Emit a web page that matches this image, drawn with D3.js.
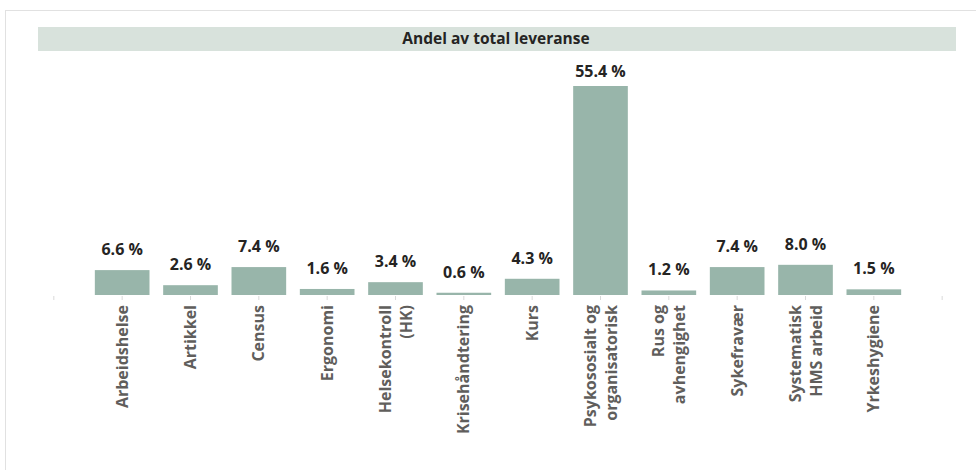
<!DOCTYPE html>
<html>
<head>
<meta charset="utf-8">
<script src="https://cdn.jsdelivr.net/npm/d3@7"></script>
<style>
  body { margin: 0; background: #fff; }
  svg { display: block; font-family: "Segoe UI", "Open Sans", sans-serif; }
</style>
</head>
<body>
<div id="chart"></div>
<script>
// data
const categories = ["Arbeidshelse", "Artikkel", "Census", "Ergonomi", "Helsekontroll (HK)",
  "Krisehåndtering", "Kurs", "Psykososialt og organisatorisk", "Rus og avhengighet",
  "Sykefravær", "Systematisk HMS arbeid", "Yrkeshygiene"];
const tickLabels = [["Arbeidshelse"], ["Artikkel"], ["Census"], ["Ergonomi"], ["Helsekontroll", "(HK)"],
  ["Krisehåndtering"], ["Kurs"], ["Psykososialt og", "organisatorisk"], ["Rus og", "avhengighet"],
  ["Sykefravær"], ["Systematisk", "HMS arbeid"], ["Yrkeshygiene"]];
const shares = [6.6, 2.6, 7.4, 1.6, 3.4, 0.6, 4.3, 55.4, 1.2, 7.4, 8.0, 1.5];
const title = "Andel av total leveranse";

const W = 976, H = 470;
const svg = d3.select("#chart").append("svg").attr("width", W).attr("height", H);

// ramme rundt visualet
svg.append("rect")
  .attr("x", 5.5).attr("y", 10.5).attr("width", W).attr("height", H)
  .attr("fill", "none").attr("stroke", "#e1e1e1");

// tittelbånd
svg.append("rect")
  .attr("x", 38).attr("y", 27).attr("width", 918).attr("height", 24)
  .attr("fill", "#d8e2dc");
svg.append("text")
  .attr("x", 496).attr("y", 39).attr("dy", "0.35em")
  .attr("text-anchor", "middle")
  .attr("font-size", 15.5).attr("font-weight", 700).attr("fill", "#252423")
  .text(title);

const x = d3.scaleBand().domain(categories).range([88, 908]).paddingInner(0.2).paddingOuter(0.1);
const y = d3.scaleLinear().domain([0, d3.max(shares)]).range([295, 86]);

// akse-ticks (inkl. endene)
const axisG = svg.append("g").attr("transform", "translate(0,296)");
axisG.call(d3.axisBottom(x).tickSize(4).tickFormat(""))
  .call(g => g.select(".domain").remove())
  .call(g => g.selectAll(".tick line").attr("stroke", "#d9d9d9"));
[x.range()[0] - x.step() / 2, x.range()[1] + x.step() / 2].forEach(px => {
  axisG.append("line").attr("x1", px).attr("x2", px).attr("y1", 0).attr("y2", 4).attr("stroke", "#d9d9d9");
});

// søyler
svg.append("g").selectAll("rect")
  .data(categories)
  .join("rect")
  .attr("x", d => x(d))
  .attr("width", x.bandwidth())
  .attr("y", (d, i) => y(shares[i]))
  .attr("height", (d, i) => y(0) - y(shares[i]))
  .attr("fill", "#98b5aa");

// dataetiketter
svg.append("g").selectAll("text")
  .data(categories)
  .join("text")
  .attr("x", d => x(d) + x.bandwidth() / 2)
  .attr("y", (d, i) => Math.max(y(shares[i]) - 15, y.range()[1] - 9))
  .attr("text-anchor", "middle")
  .attr("font-size", 16).attr("font-weight", 700).attr("fill", "#252423")
  .text((d, i) => d3.format(".1f")(shares[i]) + " %");

// kategorietiketter, rotert
const lab = svg.append("g").selectAll("g")
  .data(categories)
  .join("g")
  .attr("transform", d => `translate(${x(d) + x.bandwidth() / 2},305) rotate(-90)`);
lab.each(function (d, i) {
  const lines = tickLabels[i];
  d3.select(this).selectAll("text")
    .data(lines)
    .join("text")
    .attr("x", 0)
    .attr("y", (t, j) => (j - (lines.length - 1) / 2) * 21)
    .attr("dy", "0.35em")
    .attr("text-anchor", "end")
    .attr("font-size", 16).attr("font-weight", 700).attr("fill", "#605e5c")
    .text(t => t);
});
</script>
</body>
</html>
